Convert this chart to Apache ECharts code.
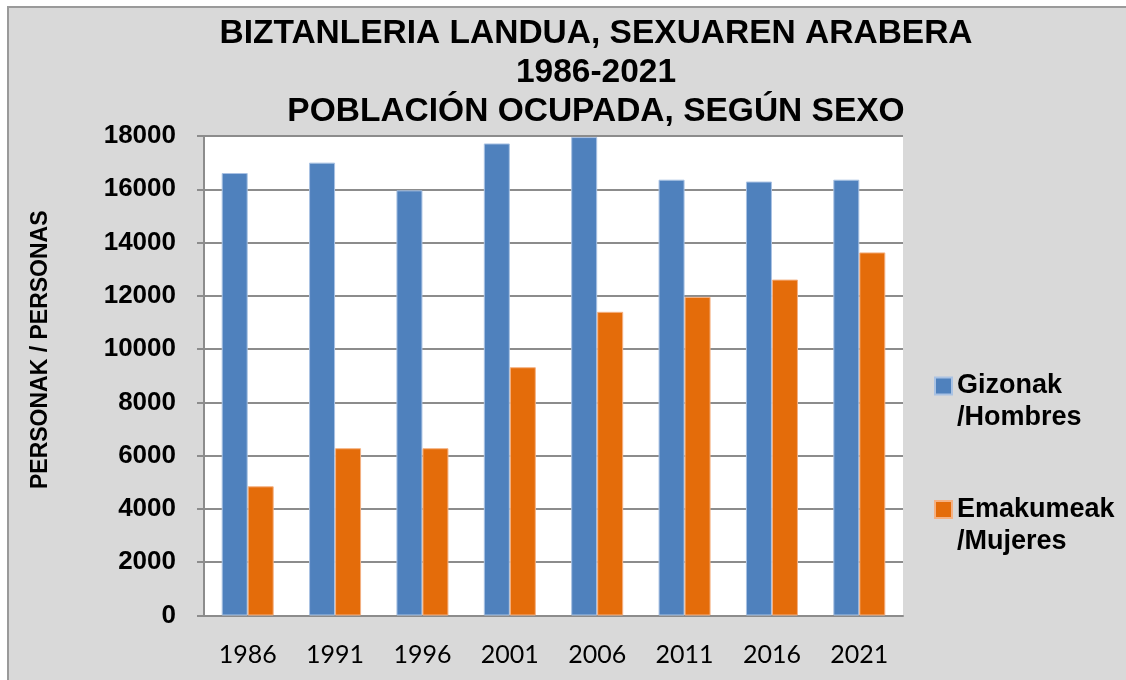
<!DOCTYPE html>
<html><head><meta charset="utf-8">
<script src="https://cdn.jsdelivr.net/npm/echarts@6/dist/echarts.min.js"></script>
<style>
html,body{margin:0;padding:0;background:#fff}
#bg{position:absolute;left:7px;top:6px;width:1125px;height:680px;background:#d9d9d9;border-left:2px solid #9a9a9a;border-top:2px solid #9a9a9a}
#c{position:absolute;left:0;top:0;width:1126px;height:680px}
</style>
</head><body><div id="bg"></div><div id="c"></div>
<script>
const titleLines = ['BIZTANLERIA LANDUA, SEXUAREN ARABERA', '1986-2021', 'POBLACIÓN OCUPADA, SEGÚN SEXO'];
const categories = ['1986', '1991', '1996', '2001', '2006', '2011', '2016', '2021'];
const seriesNames = ['Gizonak\n/Hombres', 'Emakumeak\n/Mujeres'];
const hombres = [16610, 17000, 15960, 17720, 17960, 16360, 16290, 16360];
const mujeres = [4850, 6280, 6280, 9320, 11400, 11960, 12610, 13630];
const yAxisName = 'PERSONAK / PERSONAS';

const chart = echarts.init(document.getElementById('c'));
chart.setOption({
  backgroundColor: 'transparent',
  animation: false,
  title: {
    text: titleLines.join('\n'),
    left: 591, textAlign: 'center', top: 9,
    textStyle: { fontFamily: 'Liberation Sans', fontWeight: 'bold', fontSize: 33.5, lineHeight: 39, color: '#000' }
  },
  legend: {
    orient: 'vertical', left: 929, top: 333, itemWidth: 17, itemHeight: 17, itemGap: 30,
    icon: 'rect',
    formatter: function (name) {
      return '{e| }\n' + name.split('\n').map(function (s) { return '{t|' + s + '}'; }).join('\n');
    },
    textStyle: {
      color: '#000',
      rich: {
        e: { fontSize: 27, lineHeight: 32, height: 32 },
        t: { fontFamily: 'Liberation Sans', fontWeight: 'bold', fontSize: 27, lineHeight: 32, color: '#000' }
      }
    }
  },
  grid: { left: 204, right: 223, top: 136, bottom: 64.5, show: true, backgroundColor: '#fff', borderWidth: 0 },
  xAxis: {
    type: 'category', data: categories,
    axisLine: { lineStyle: { color: '#8c8c8c', width: 2 } },
    axisTick: { show: false },
    axisLabel: { fontFamily: 'Lato', fontSize: 25, color: '#000', margin: 27 }
  },
  yAxis: {
    type: 'value', min: 0, max: 18000, interval: 2000,
    name: yAxisName, nameLocation: 'middle', nameGap: 152, nameRotate: 90,
    nameTextStyle: { fontFamily: 'Liberation Sans', fontWeight: 'bold', fontSize: 23, color: '#000', padding: [0, 0, 0, 52] },
    axisLine: { show: true, lineStyle: { color: '#8c8c8c', width: 2 } },
    axisTick: { show: true, length: 7, lineStyle: { color: '#8c8c8c', width: 2 } },
    splitLine: { lineStyle: { color: '#8c8c8c', width: 2 } },
    axisLabel: { fontFamily: 'Liberation Sans', fontWeight: 'bold', fontSize: 26, color: '#000', margin: 28, formatter: function (v) { return String(v); } }
  },
  series: [
    { name: seriesNames[0], type: 'bar', data: hombres, barWidth: 26, barGap: '0%', itemStyle: { color: '#4f81bd', borderColor: '#a9c2e3', borderWidth: 1 } },
    { name: seriesNames[1], type: 'bar', data: mujeres, barWidth: 26, barGap: '0%', itemStyle: { color: '#e46c0a', borderColor: '#f4b183', borderWidth: 1 } }
  ]
});
</script></body></html>
